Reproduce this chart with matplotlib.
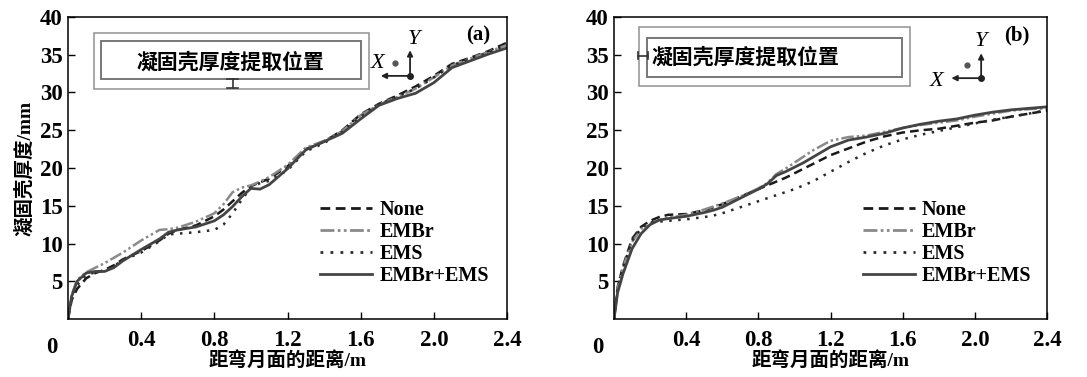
import matplotlib
matplotlib.use("Agg")
import matplotlib.pyplot as plt
from matplotlib.patches import Rectangle

plt.rcParams['font.family'] = ['Liberation Serif', 'Noto Sans CJK SC', 'DejaVu Sans']

x = [0, 0.02, 0.05, 0.1, 0.15, 0.2, 0.25, 0.3, 0.4, 0.5, 0.55, 0.6, 0.7, 0.8, 0.85, 0.9, 0.95,
     1.0, 1.05, 1.1, 1.2, 1.3, 1.4, 1.5, 1.6, 1.7, 1.8, 1.9, 2.0, 2.1, 2.2, 2.3, 2.4]

# Panel (a)
a_none = [0, 2.5, 4.0, 5.4, 6.1, 6.5, 7.1, 7.9, 9.0, 10.4, 11.3, 11.8, 12.4, 13.6, 14.5, 15.6, 16.7,
          17.6, 18.1, 18.6, 20.2, 22.5, 23.5, 25.0, 27.1, 28.5, 29.6, 30.8, 32.2, 33.8, 34.6, 35.5, 36.6]
a_embr = [0, 3.2, 5.2, 6.2, 6.8, 7.4, 8.1, 8.8, 10.4, 11.8, 11.9, 12.1, 12.9, 14.0, 15.2, 16.8, 17.4,
          17.7, 18.2, 18.8, 20.4, 22.7, 23.6, 24.9, 27.0, 28.4, 29.4, 30.5, 32.0, 33.6, 34.5, 35.4, 36.3]
a_ems = [0, 2.8, 4.5, 5.8, 6.2, 6.4, 7.0, 7.8, 8.8, 10.3, 11.2, 11.3, 11.5, 11.8, 12.5, 14.0, 15.8,
         17.4, 18.0, 18.3, 19.7, 22.2, 23.3, 24.8, 26.8, 28.4, 29.5, 30.5, 32.0, 33.6, 34.4, 35.3, 36.3]
a_both = [0, 3.0, 5.0, 6.1, 6.3, 6.3, 6.8, 7.7, 9.2, 10.6, 11.5, 11.8, 12.2, 13.0, 13.8, 14.9, 16.2,
          17.3, 17.2, 17.8, 19.9, 22.4, 23.5, 24.6, 26.5, 28.3, 29.2, 29.9, 31.3, 33.3, 34.2, 35.1, 35.9]

# Panel (b)
b_none = [0, 4.2, 7.0, 10.6, 12.2, 13.0, 13.5, 13.8, 13.9, 14.4, 14.8, 15.2, 16.2, 17.2, 17.7, 18.2, 18.7,
          19.3, 19.9, 20.5, 21.7, 22.6, 23.5, 24.2, 24.7, 25.0, 25.2, 25.6, 26.0, 26.3, 26.8, 27.2, 27.6]
b_embr = [0, 4.0, 6.8, 10.2, 11.9, 12.7, 13.1, 13.4, 13.8, 14.5, 14.9, 15.3, 16.2, 17.3, 18.0, 19.2, 19.9,
          20.7, 21.5, 22.3, 23.6, 24.1, 24.3, 24.8, 25.3, 25.7, 26.0, 26.3, 26.8, 27.2, 27.6, 27.8, 27.9]
b_ems = [0, 4.0, 6.8, 10.4, 12.0, 12.8, 12.9, 13.0, 13.2, 13.5, 13.7, 14.0, 14.8, 15.6, 16.0, 16.4, 16.8,
         17.2, 17.7, 18.2, 19.5, 20.8, 22.0, 23.0, 23.8, 24.4, 24.9, 25.4, 25.9, 26.4, 26.8, 27.2, 27.7]
b_both = [0, 3.5, 6.0, 9.3, 11.3, 12.5, 13.1, 13.3, 13.6, 14.1, 14.4, 14.8, 16.0, 17.2, 17.9, 19.0, 19.5,
          20.1, 20.7, 21.4, 22.8, 23.7, 24.1, 24.6, 25.3, 25.8, 26.2, 26.5, 27.0, 27.4, 27.7, 27.9, 28.1]

labels = ['None', 'EMBr', 'EMS', 'EMBr+EMS']
xticks = [0.4, 0.8, 1.2, 1.6, 2.0, 2.4]
xticklabels = ['0.4', '0.8', '1.2', '1.6', '2.0', '2.4']
yticks = [5, 10, 15, 20, 25, 30, 35, 40]
inset_text = '凝固壳厚度提取位置'
xlabel = '距弯月面的距离/m'
ylabel = '凝固壳厚度/mm'

styles = [
    dict(color='#1a1a1a', linestyle=(0, (3.5, 2)), linewidth=1.8),
    dict(color='#8a8a8a', linestyle=(0, (5, 1.2, 1, 1.2, 1, 1.2)), linewidth=1.8),
    dict(color='#2a2a2a', linestyle=(0, (1, 2.6)), linewidth=1.8),
    dict(color='#444444', linestyle='-', linewidth=2.0),
]

fig = plt.figure(figsize=(10.87, 3.77), dpi=100)
axA = fig.add_axes([68/1087, 58/377, 439/1087, 302/377])
axB = fig.add_axes([614/1087, 58/377, 433/1087, 302/377])

tickfont = dict(family=['Liberation Serif'], weight='bold', size=16.5)
cjkfont = ['Liberation Serif', 'Noto Sans CJK SC']

for ax, series in ((axA, (a_none, a_embr, a_ems, a_both)), (axB, (b_none, b_embr, b_ems, b_both))):
    for s, lab, st in zip(series, labels, styles):
        ax.plot(x, s, label=lab, **st)
    ax.set_xlim(0, 2.4)
    ax.set_ylim(0, 40)
    ax.set_xticks(xticks)
    ax.set_xticklabels(xticklabels, fontdict=tickfont)
    ax.set_yticks(yticks)
    ax.set_yticklabels([str(v) for v in yticks], fontdict=tickfont)
    ax.tick_params(direction='in', length=5, width=1)
    ax.tick_params(axis='x', pad=8)
    ax.tick_params(axis='y', pad=4)
    for sp in ax.spines.values():
        sp.set_linewidth(1.1)
    ax.text(-0.025, -0.06, '0', transform=ax.transAxes, ha='right', va='top',
            family='Liberation Serif', weight='bold', size=16.5)
    ax.set_xlabel(xlabel, family=cjkfont, weight='bold', size=14, labelpad=0)
    leg = ax.legend(loc='lower left', bbox_to_anchor=(0.574, 0.11), frameon=False,
                    prop=dict(family='Liberation Serif', weight='bold', size=14.5),
                    handlelength=2.6, handletextpad=0.35, labelspacing=0.1,
                    borderaxespad=0, borderpad=0)
    for h in leg.get_lines():
        h.set_linewidth(2.0)

axA.set_ylabel(ylabel, family=cjkfont, weight='bold', size=14, labelpad=4)

# Inset schematic (a)
axA.add_patch(Rectangle((0.142, 30.5), 1.646-0.142, 37.9-30.5, fill=False, ec='#999999', lw=1.2))
axA.add_patch(Rectangle((0.180, 31.8), 1.602-0.180, 36.8-31.8, fill=False, ec='#777777', lw=1.4))
axA.text(0.89, 34.0, inset_text, ha='center', va='center', family=['Noto Sans CJK SC'], size=15, weight='bold')
axA.plot([0.9, 0.9], [30.6, 31.8], color='#333333', lw=1.2)
axA.plot([0.87, 0.93], [30.6, 30.6], color='#333333', lw=1.2)
axA.plot([0.87, 0.93], [31.8, 31.8], color='#333333', lw=1.2)
axA.annotate('', xy=(1.87, 35.6), xytext=(1.87, 32.2),
             arrowprops=dict(arrowstyle='-|>', color='#222222', lw=1.3, mutation_scale=8, shrinkA=0, shrinkB=0))
axA.annotate('', xy=(1.71, 32.2), xytext=(1.87, 32.2),
             arrowprops=dict(arrowstyle='-|>', color='#222222', lw=1.3, mutation_scale=8, shrinkA=0, shrinkB=0))
axA.plot([1.87], [32.2], 'o', color='#222222', ms=4)
axA.plot([1.79], [33.9], 'o', color='#555555', ms=3.5)
axA.text(1.695, 33.9, 'X', ha='center', va='center', family='Liberation Serif', style='italic', size=16)
axA.text(1.89, 37.0, 'Y', ha='center', va='center', family='Liberation Serif', style='italic', size=16)
axA.text(2.24, 37.6, '(a)', ha='center', va='center', family='Liberation Serif', weight='bold', size=15)

# Inset schematic (b)
axB.add_patch(Rectangle((0.138, 30.9), 1.643-0.138, 38.7-30.9, fill=False, ec='#999999', lw=1.2))
axB.add_patch(Rectangle((0.183, 32.1), 1.598-0.183, 37.2-32.1, fill=False, ec='#777777', lw=1.4))
axB.text(0.21, 34.7, inset_text, ha='left', va='center', family=['Noto Sans CJK SC'], size=15, weight='bold')
axB.plot([0.133, 0.188], [34.9, 34.9], color='#333333', lw=1.2)
axB.plot([0.133, 0.133], [34.4, 35.4], color='#333333', lw=1.2)
axB.plot([0.188, 0.188], [34.4, 35.4], color='#333333', lw=1.2)
axB.annotate('', xy=(2.035, 35.2), xytext=(2.035, 31.9),
             arrowprops=dict(arrowstyle='-|>', color='#222222', lw=1.3, mutation_scale=8, shrinkA=0, shrinkB=0))
axB.annotate('', xy=(1.87, 31.9), xytext=(2.035, 31.9),
             arrowprops=dict(arrowstyle='-|>', color='#222222', lw=1.3, mutation_scale=8, shrinkA=0, shrinkB=0))
axB.plot([2.035], [31.9], 'o', color='#222222', ms=4)
axB.plot([1.958], [33.6], 'o', color='#555555', ms=3.5)
axB.text(1.786, 31.5, 'X', ha='center', va='center', family='Liberation Serif', style='italic', size=16)
axB.text(2.035, 36.7, 'Y', ha='center', va='center', family='Liberation Serif', style='italic', size=16)
axB.text(2.23, 37.6, '(b)', ha='center', va='center', family='Liberation Serif', weight='bold', size=15)

fig.savefig('out.png', dpi=100)
